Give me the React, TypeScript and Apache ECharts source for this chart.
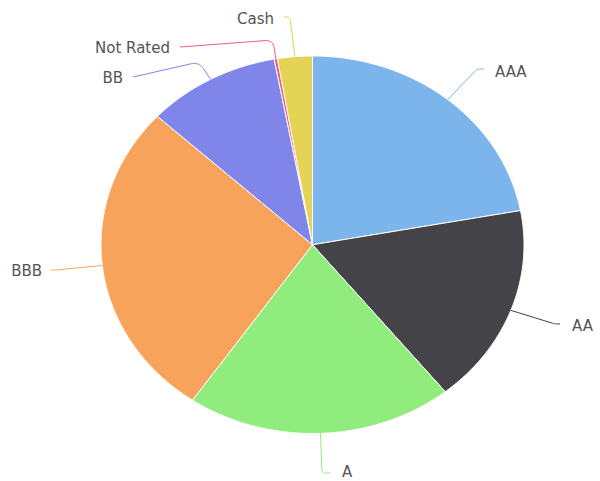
import React, { useEffect, useRef } from "react";
import * as echarts from "echarts";

const categories = ["AAA", "AA", "A", "BBB", "BB", "Not Rated", "Cash"];
const values = [22.1, 17.1, 20.4, 27.3, 10.2, 0.25, 2.65];
const colors = ["#7cb5ec", "#434348", "#90ed7d", "#f7a35c", "#8085e9", "#f15c80", "#e4d354"];

// Label layout (Highcharts-style distributed labels): text anchor, alignment, connector corner and end
const labelLayout = [
  { tx: 495, ty: 72, align: "left", corner: [477, 69], end: [484, 69] },
  { tx: 572, ty: 326, align: "left", corner: [555, 324], end: [560, 324] },
  { tx: 342, ty: 472, align: "left", corner: [322, 473], end: [330, 473] },
  { tx: 42, ty: 271, align: "right", corner: [56, 270], end: [51, 270] },
  { tx: 123, ty: 78, align: "right", corner: [199, 62], end: [133, 77] },
  { tx: 170, ty: 48, align: "right", corner: [273, 40], end: [180, 47] },
  { tx: 274, ty: 19, align: "right", corner: [290, 17], end: [284, 17] },
];

const CX = 312.5;
const CY = 244.75;
const RX = 211.5;
const RY = 188.75;

function pt(deg: number, rx: number, ry: number): number[] {
  const r = (deg * Math.PI) / 180;
  return [CX + rx * Math.sin(r), CY - ry * Math.cos(r)];
}

function connector(e: number[], c: number[], end: number[]): number[][] {
  const d1 = Math.hypot(c[0] - e[0], c[1] - e[1]);
  const d2 = Math.hypot(end[0] - c[0], end[1] - c[1]);
  const k = Math.min(8, d1 / 2, d2 / 2);
  const a = [c[0] + ((e[0] - c[0]) * k) / (d1 || 1), c[1] + ((e[1] - c[1]) * k) / (d1 || 1)];
  const b = [c[0] + ((end[0] - c[0]) * k) / (d2 || 1), c[1] + ((end[1] - c[1]) * k) / (d2 || 1)];
  const pts: number[][] = [e, a];
  for (let i = 1; i < 10; i++) {
    const t = i / 10;
    const u = 1 - t;
    pts.push([u * u * a[0] + 2 * u * t * c[0] + t * t * b[0], u * u * a[1] + 2 * u * t * c[1] + t * t * b[1]]);
  }
  pts.push(b, end);
  return pts;
}

export default function App() {
  const ref = useRef<HTMLDivElement>(null);
  useEffect(() => {
    document.body.style.margin = "0";
    if (!ref.current) return;
    const chart = echarts.init(ref.current, null, { renderer: "svg" });
    const total = values.reduce((s, v) => s + v, 0);
    const starts: number[] = [];
    let acc = 0;
    values.forEach((v) => {
      starts.push(acc);
      acc += v;
    });
    chart.setOption({
      animation: false,
      backgroundColor: "#ffffff",
      series: [
        {
          type: "custom",
          coordinateSystem: "none",
          data: categories.map((c, i) => ({ name: c, value: values[i] })),
          renderItem: (params: any, api: any) => {
            const i = params.dataIndex;
            const v = api.value(0);
            const a0 = (starts[i] / total) * 360;
            const a1 = a0 + (v / total) * 360;
            const points: number[][] = [[CX, CY]];
            const steps = Math.max(2, Math.ceil((a1 - a0) / 0.5));
            for (let s = 0; s <= steps; s++) {
              points.push(pt(a0 + ((a1 - a0) * s) / steps, RX, RY));
            }
            const mid = (a0 + a1) / 2;
            const e = pt(mid, RX, RY);
            const L = labelLayout[i];
            return {
              type: "group",
              children: [
                {
                  type: "polygon",
                  shape: { points },
                  style: { fill: colors[i], stroke: "#ffffff", lineWidth: 1, lineJoin: "round" },
                },
                {
                  type: "polyline",
                  shape: { points: connector(e, L.corner, L.end) },
                  style: { fill: "none", stroke: colors[i], lineWidth: 1 },
                  z2: 10,
                },
                {
                  type: "text",
                  x: L.tx,
                  y: L.ty,
                  style: {
                    text: categories[i],
                    fill: "#555555",
                    font: "15px 'DejaVu Sans'",
                    align: L.align,
                    verticalAlign: "middle",
                  },
                  z2: 10,
                },
              ],
            };
          },
        },
      ],
    });
    return () => chart.dispose();
  }, []);
  return <div ref={ref} style={{ width: 600, height: 481 }} />;
}
